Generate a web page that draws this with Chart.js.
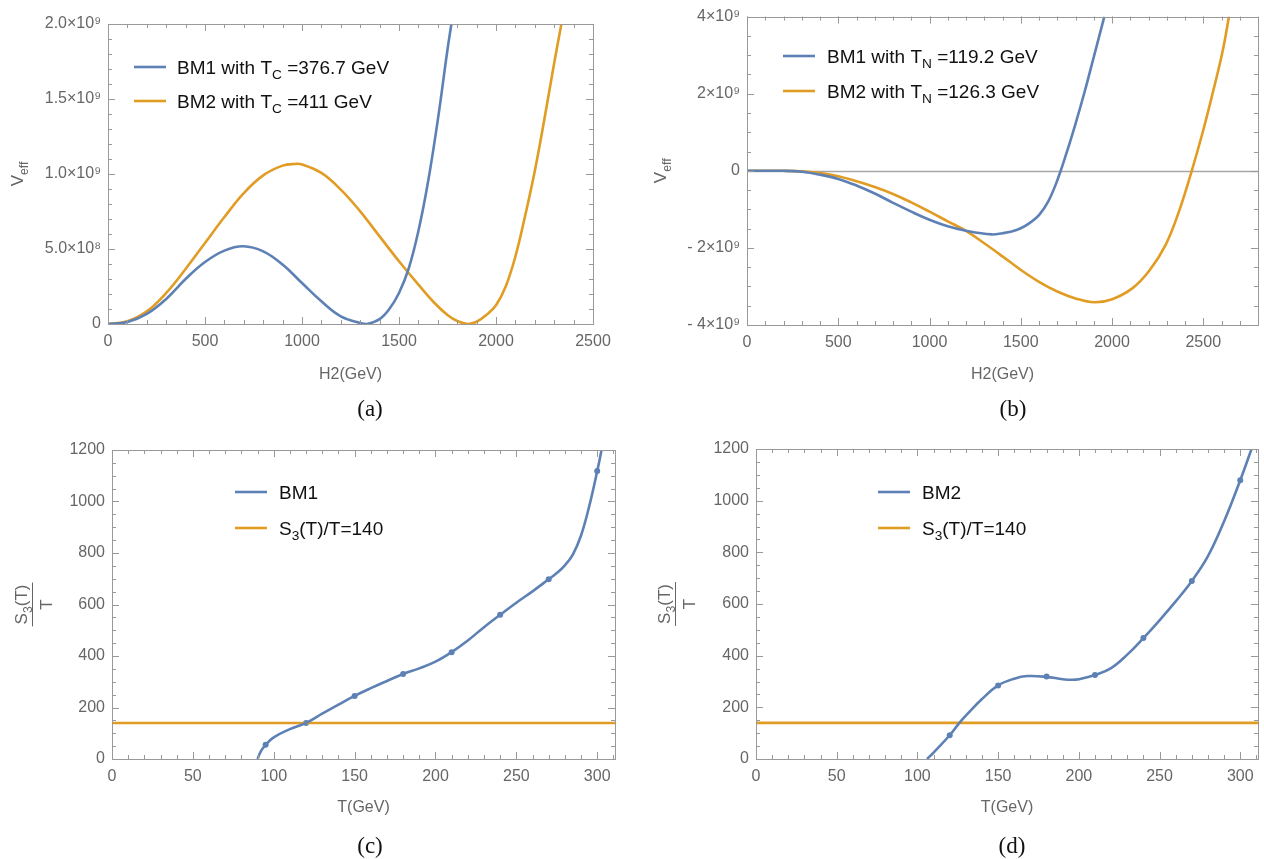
<!DOCTYPE html>
<html>
<head>
<meta charset="utf-8">
<script src="https://cdn.jsdelivr.net/npm/chart.js@4.4.1/dist/chart.umd.min.js"></script>
<style>
  body { margin: 0; background: #fff; width: 1264px; height: 859px; position: relative; overflow: hidden; }
  .panel { position: absolute; }
  .cap { position: absolute; font-family: "Liberation Serif", "DejaVu Serif", serif; font-size: 23px; color: #111; transform: translate(-50%, -50%); }
</style>
</head>
<body>
<div class="panel" style="left:0;top:0;width:620px;height:400px"><canvas id="chartA"></canvas></div>
<div class="panel" style="left:632px;top:0;width:632px;height:400px"><canvas id="chartB"></canvas></div>
<div class="panel" style="left:0;top:430px;width:620px;height:429px"><canvas id="chartC"></canvas></div>
<div class="panel" style="left:632px;top:430px;width:632px;height:429px"><canvas id="chartD"></canvas></div>
<div class="cap" style="left:370px;top:409px">(a)</div>
<div class="cap" style="left:1013px;top:409px">(b)</div>
<div class="cap" style="left:370px;top:846px">(c)</div>
<div class="cap" style="left:1012px;top:846px">(d)</div>
<script>
const BLUE = '#5E81B5';
const ORANGE = '#E19C24';
const TICK_GRAY = '#666666';
const GIGA = 1e9;

// (a) V_eff at T_C, values in units of 10^9
const h2A_BM1 = [0, 100, 200, 300, 400, 500, 600, 697, 800, 900, 1000, 1100, 1200, 1300, 1335, 1400, 1450, 1500, 1550, 1600, 1650, 1700, 1750, 1770];
const vA_BM1 = [0, 0.013, 0.067, 0.167, 0.3, 0.413, 0.489, 0.518, 0.484, 0.396, 0.273, 0.151, 0.051, 0.007, 0, 0.033, 0.1, 0.207, 0.37, 0.62, 0.95, 1.36, 1.83, 2.0];
const h2A_BM2 = [0, 100, 200, 300, 400, 500, 600, 700, 800, 900, 965, 1000, 1100, 1200, 1300, 1400, 1500, 1600, 1683, 1750, 1800, 1856, 1900, 1950, 2000, 2050, 2100, 2150, 2200, 2250, 2300, 2337];
const vA_BM2 = [0, 0.018, 0.084, 0.207, 0.367, 0.54, 0.713, 0.873, 0.991, 1.056, 1.067, 1.064, 1.007, 0.896, 0.751, 0.584, 0.418, 0.262, 0.14, 0.06, 0.02, 0, 0.015, 0.06, 0.125, 0.25, 0.45, 0.72, 1.02, 1.37, 1.74, 2.0];

// (b) V_eff at T_N, values in units of 10^9
const h2B_BM1 = [0, 100, 200, 300, 400, 500, 600, 700, 800, 900, 1000, 1100, 1200, 1340, 1400, 1450, 1500, 1550, 1600, 1650, 1700, 1750, 1800, 1850, 1900, 1958];
const vB_BM1 = [0, 0, 0, -0.025, -0.1, -0.21, -0.38, -0.59, -0.83, -1.06, -1.27, -1.44, -1.555, -1.65, -1.62, -1.575, -1.49, -1.35, -1.15, -0.8, -0.25, 0.45, 1.22, 2.05, 2.95, 4.0];
const h2B_BM2 = [0, 100, 200, 300, 400, 500, 600, 700, 800, 900, 1000, 1100, 1200, 1300, 1400, 1500, 1600, 1700, 1800, 1903, 2001, 2111, 2203, 2294, 2368, 2437, 2497, 2552, 2607, 2641];
const vB_BM2 = [0, 0, 0, -0.015, -0.06, -0.14, -0.27, -0.42, -0.6, -0.82, -1.06, -1.31, -1.56, -1.88, -2.22, -2.57, -2.88, -3.13, -3.31, -3.41, -3.33, -3.05, -2.6, -1.92, -1.04, 0, 1.0, 2.02, 3.12, 4.0];

// (c) BM1 action
const tC_pts = [95, 120, 150, 180, 210, 240, 270, 300];
const sC_pts = [55, 140, 245, 330, 415, 560, 698, 1118];
const tC_fit = [90, 92, 95, 100, 110, 120, 130, 140, 150, 160, 170, 180, 190, 200, 210, 220, 230, 240, 250, 260, 270, 275, 280, 285, 290, 295, 300, 303];
const sC_fit = [0, 30, 55, 84, 116, 140, 176, 211, 245, 275, 303, 330, 352, 378, 415, 460, 512, 560, 607, 651, 698, 722, 752, 795, 868, 980, 1118, 1210];

// (d) BM2 action
const tD_pts = [120, 150, 180, 210, 240, 270, 300];
const sD_pts = [92, 285, 319, 325, 468, 689, 1079];
const tD_fit = [106, 110, 120, 126, 130, 140, 150, 160, 168, 180, 190, 196, 200, 210, 220, 230, 240, 250, 260, 270, 280, 290, 300, 307];
const sD_fit = [0, 25, 92, 140, 168, 232, 285, 311, 321, 318, 309, 307, 309, 325, 352, 404, 468, 537, 610, 689, 785, 920, 1079, 1200];

const S3_LEVEL = 140;

function pts(xs, ys, k) {
  return xs.map((x, i) => ({ x: x, y: ys[i] * (k || 1) }));
}

function drawRich(ctx, parts, x, y, size, color, measureOnly) {
  let cx = x;
  for (const [t, kind] of parts) {
    const s = kind === 'sub' ? size * 0.72 : size;
    ctx.font = s + 'px "Liberation Sans", "DejaVu Sans", sans-serif';
    if (!measureOnly) {
      ctx.fillStyle = color;
      ctx.fillText(t, cx, kind === 'sub' ? y + size * 0.28 : y);
    }
    cx += ctx.measureText(t).width;
  }
  return cx - x;
}

// frame with inward ticks on all four sides, like the original plots
const frameTicks = {
  id: 'frameTicks',
  beforeDatasetsDraw(chart, args, o) {
    if (!o.zeroLine) return;
    const { ctx, chartArea: a, scales: { y } } = chart;
    const py = Math.round(y.getPixelForValue(0)) + 0.5;
    ctx.save();
    ctx.strokeStyle = '#a6a6a6';
    ctx.lineWidth = 1.5;
    ctx.beginPath();
    ctx.moveTo(a.left, py);
    ctx.lineTo(a.right, py);
    ctx.stroke();
    ctx.restore();
  },
  afterDatasetsDraw(chart, args, o) {
    const { ctx, chartArea: a, scales: { x, y } } = chart;
    ctx.save();
    ctx.strokeStyle = '#999999';
    ctx.lineWidth = 1;
    ctx.strokeRect(Math.round(a.left) + 0.5, Math.round(a.top) + 0.5, Math.round(a.right - a.left), Math.round(a.bottom - a.top));
    const steps = (s, step) => {
      const out = [];
      for (let k = Math.ceil(s.min / step - 1e-9); k * step <= s.max + 1e-9 * Math.abs(step); k++) out.push(k * step);
      return out;
    };
    const tick = (axis, s, step, len) => {
      ctx.beginPath();
      for (const v of steps(s, step)) {
        const p = Math.round(s.getPixelForValue(v)) + 0.5;
        if (axis === 'x') {
          ctx.moveTo(p, a.bottom); ctx.lineTo(p, a.bottom - len);
          ctx.moveTo(p, a.top); ctx.lineTo(p, a.top + len);
        } else {
          ctx.moveTo(a.left, p); ctx.lineTo(a.left + len, p);
          ctx.moveTo(a.right, p); ctx.lineTo(a.right - len, p);
        }
      }
      ctx.stroke();
    };
    tick('x', x, o.xMinor, 4);
    tick('x', x, o.xMajor, 7);
    tick('y', y, o.yMinor, 4);
    tick('y', y, o.yMajor, 7);
    ctx.restore();
  },
  afterDraw(chart, args, o) {
    const { ctx, chartArea: a } = chart;
    // legend
    const lg = o.legend;
    ctx.save();
    lg.items.forEach((it, i) => {
      const ds = chart.data.datasets[it.dataset];
      const yy = lg.rows[i];
      ctx.strokeStyle = ds.borderColor;
      ctx.lineWidth = 2.6;
      ctx.beginPath();
      ctx.moveTo(lg.x, yy);
      ctx.lineTo(lg.x + lg.len, yy);
      ctx.stroke();
      drawRich(ctx, it.parts, lg.textX, yy + lg.size * 0.36, lg.size, '#111');
    });
    // y axis title
    const t = o.yTitle;
    const cy = (a.top + a.bottom) / 2;
    ctx.translate(t.x, cy);
    ctx.rotate(-Math.PI / 2);
    if (t.frac) {
      const wn = drawRich(ctx, t.num, 0, 0, t.size, TICK_GRAY, true);
      const wd = drawRich(ctx, t.den, 0, 0, t.size, TICK_GRAY, true);
      drawRich(ctx, t.num, -wn / 2, -5, t.size, TICK_GRAY);
      drawRich(ctx, t.den, -wd / 2, t.size + 3, t.size, TICK_GRAY);
      ctx.strokeStyle = TICK_GRAY;
      ctx.lineWidth = 1;
      ctx.beginPath();
      ctx.moveTo(-wn / 2 - 2, 0.5);
      ctx.lineTo(wn / 2 + 2, 0.5);
      ctx.stroke();
    } else {
      const w = drawRich(ctx, t.parts, 0, 0, t.size, TICK_GRAY, true);
      drawRich(ctx, t.parts, -w / 2, t.size * 0.36, t.size, TICK_GRAY);
    }
    ctx.restore();
  }
};

const tickFont = { family: '"Liberation Sans", "DejaVu Sans", sans-serif', size: 16 };

// labelled ticks only at whole multiples of the step
function stepTicks(step) {
  return s => {
    const out = [];
    for (let k = Math.ceil(s.min / step - 1e-9); k * step <= s.max + 1e-6 * step; k++) out.push({ value: k * step });
    s.ticks = out;
  };
}

function makePanel(id, p) {
  return new Chart(document.getElementById(id), {
    type: 'line',
    data: { datasets: p.datasets },
    plugins: [frameTicks],
    options: {
      responsive: true,
      maintainAspectRatio: false,
      animation: false,
      events: [],
      layout: { padding: p.padding },
      scales: {
        x: {
          type: 'linear',
          min: p.x.min, max: p.x.max,
          afterFit: s => { s.height = p.x.height; },
          afterBuildTicks: stepTicks(p.x.step),
          grid: { display: false, drawTicks: false },
          border: { display: false },
          ticks: { autoSkip: false, maxRotation: 0, padding: 8, color: TICK_GRAY, font: tickFont, callback: v => String(v) },
          title: { display: true, text: p.x.title, color: TICK_GRAY, font: { family: tickFont.family, size: 16 }, padding: { top: 0, bottom: p.x.titlePad } }
        },
        y: {
          type: 'linear',
          min: p.y.min, max: p.y.max,
          afterFit: s => { s.width = p.y.width; },
          afterBuildTicks: stepTicks(p.y.step),
          grid: { display: false, drawTicks: false },
          border: { display: false },
          ticks: { autoSkip: false, padding: 7, color: TICK_GRAY, font: tickFont, callback: p.y.label }
        }
      },
      plugins: {
        legend: { display: false },
        tooltip: { enabled: false },
        frameTicks: p.frame
      }
    }
  });
}

function curve(label, data, color) {
  return { label: label, data: data, borderColor: color, backgroundColor: color, borderWidth: 2.6, pointRadius: 0, tension: 0.4, fill: false };
}

const veffTitle = [['V', ''], ['eff', 'sub']];

makePanel('chartA', {
  padding: { top: 24, right: 27, bottom: 0, left: 0 },
  datasets: [
    curve('BM1 with Tc=376.7 GeV', pts(h2A_BM1, vA_BM1, GIGA), BLUE),
    curve('BM2 with Tc=411 GeV', pts(h2A_BM2, vA_BM2, GIGA), ORANGE)
  ],
  x: { min: 0, max: 2500, step: 500, height: 76, title: 'H2(GeV)', titlePad: 16 },
  y: { min: 0, max: 2e9, step: 5e8, width: 108,
       label: v => v === 0 ? '0' : (v >= 1e9 ? (v / 1e9).toFixed(1) + '×10⁹' : (v / 1e8).toFixed(1) + '×10⁸') },
  frame: {
    xMajor: 500, xMinor: 100, yMajor: 5e8, yMinor: 1e8,
    legend: { x: 134, len: 32, textX: 177, size: 19, rows: [67, 101], items: [
      { dataset: 0, parts: [['BM1 with T', ''], ['C', 'sub'], [' =376.7 GeV', '']] },
      { dataset: 1, parts: [['BM2 with T', ''], ['C', 'sub'], [' =411 GeV', '']] }
    ] },
    yTitle: { x: 17, size: 17, parts: veffTitle }
  }
});

makePanel('chartB', {
  padding: { top: 11, right: 6, bottom: 0, left: 0 },
  datasets: [
    curve('BM1 with TN=119.2 GeV', pts(h2B_BM1, vB_BM1, GIGA), BLUE),
    curve('BM2 with TN=126.3 GeV', pts(h2B_BM2, vB_BM2, GIGA), ORANGE)
  ],
  x: { min: 0, max: 2800, step: 500, height: 75, title: 'H2(GeV)', titlePad: 16 },
  y: { min: -4e9, max: 4e9, step: 2e9, width: 115,
       label: v => v === 0 ? '0' : (v < 0 ? '- ' : '') + Math.abs(v / 1e9) + '×10⁹' },
  frame: {
    xMajor: 500, xMinor: 100, yMajor: 2e9, yMinor: 5e8, zeroLine: true,
    legend: { x: 151, len: 32, textX: 195, size: 19, rows: [56, 91], items: [
      { dataset: 0, parts: [['BM1 with T', ''], ['N', 'sub'], [' =119.2 GeV', '']] },
      { dataset: 1, parts: [['BM2 with T', ''], ['N', 'sub'], [' =126.3 GeV', '']] }
    ] },
    yTitle: { x: 28, size: 17, parts: veffTitle }
  }
});

function actionPanel(id, name, tFit, sFit, tPts, sPts, pad, yWidth, legendX, titleX) {
  makePanel(id, {
    padding: pad,
    datasets: [
      curve(name, pts(tFit, sFit), BLUE),
      curve('S3(T)/T=140', [{ x: 0, y: S3_LEVEL }, { x: 311, y: S3_LEVEL }], ORANGE),
      { label: name + ' points', data: pts(tPts, sPts), showLine: false, pointRadius: 3, pointBackgroundColor: BLUE, pointBorderWidth: 0, borderColor: BLUE }
    ],
    x: { min: 0, max: 311, step: 50, height: 100, title: 'T(GeV)', titlePad: 42 },
    y: { min: 0, max: 1200, step: 200, width: yWidth, label: v => String(v) },
    frame: {
      xMajor: 50, xMinor: 10, yMajor: 200, yMinor: 50,
      legend: { x: legendX, len: 32, textX: legendX + 44, size: 19, rows: [62, 98], items: [
        { dataset: 0, parts: [[name, '']] },
        { dataset: 1, parts: [['S', ''], ['3', 'sub'], ['(T)/T=140', '']] }
      ] },
      yTitle: { x: titleX, size: 17, frac: true, num: [['S', ''], ['3', 'sub'], ['(T)', '']], den: [['T', '']] }
    }
  });
}

actionPanel('chartC', 'BM1', tC_fit, sC_fit, tC_pts, sC_pts, { top: 20, right: 5, bottom: 0, left: 0 }, 112, 235, 32);
actionPanel('chartD', 'BM2', tD_fit, sD_fit, tD_pts, sD_pts, { top: 19, right: 6, bottom: 0, left: 0 }, 124, 246, 43);
</script>
</body>
</html>
